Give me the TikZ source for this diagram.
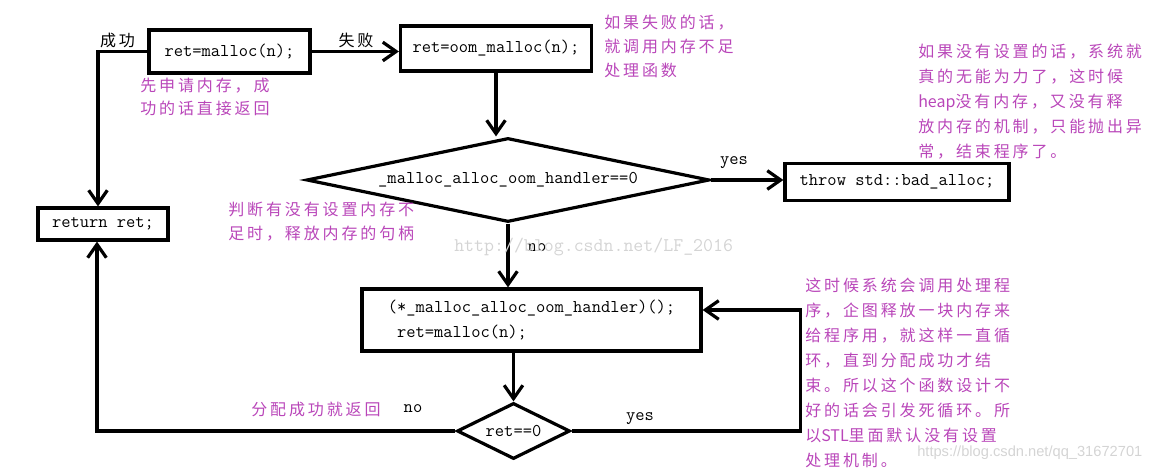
\documentclass[tikz,border=0pt]{standalone}
\usepackage{fontspec}
\usepackage{xcolor}
\usetikzlibrary{shapes.geometric,arrows.meta,positioning,calc}
\newfontfamily\cjk[LetterSpace=18]{Noto Sans CJK SC}
\newfontfamily\cjklatin{Noto Sans CJK SC}
\newfontfamily\wmfont{Liberation Sans}
\newcommand\lat[1]{{\cjklatin #1}}
\definecolor{notecolor}{RGB}{185,70,185}
\definecolor{wmcolor}{RGB}{212,212,212}

\tikzset{
  codebox/.style={draw, line width=2.4pt, inner sep=0pt, font=\ttfamily\fontsize{13.5}{18.75}\selectfont},
  decision/.style={diamond, draw, line width=2.4pt, inner sep=0pt, font=\ttfamily\fontsize{13.5}{15}\selectfont},
  flow/.style={line width=2.4pt, -{Straight Barb[length=10pt,width=14pt]}},
  note/.style={anchor=north west, inner sep=0pt, align=left, text=notecolor, font=\cjk\fontsize{12}{#1}\selectfont},
  note/.default=18.75pt,
  tag/.style={inner sep=0pt, font=\cjk\fontsize{12}{15}\selectfont},
  answer/.style={inner sep=0pt, font=\ttfamily\fontsize{13.5}{15}\selectfont},
  wmark/.style={inner sep=0pt, text=wmcolor}
}

\begin{document}
\begin{tikzpicture}[x=0.75pt, y=-0.75pt]
    \useasboundingbox (0,0) rectangle (1167,473);

    % boxes and decisions
    \node[codebox, minimum width=120.75pt, minimum height=32.25pt] (malloc) at (229.5,51.5) {ret=malloc(n);};
    \node[codebox, minimum width=143.25pt, minimum height=33.75pt] (oom) at (496,48.5) {ret=oom\_malloc(n);};
    \node[decision, aspect=4.8, minimum width=302.25pt, minimum height=63pt] (check) at (508,180) {\_malloc\_alloc\_oom\_handler==0};
    \node[codebox, minimum width=168pt, minimum height=27.75pt] (throw) at (897,182) {throw std::bad\_alloc;};
    \node[codebox, minimum width=97.5pt, minimum height=24pt] (ret) at (103,224) {return ret;};
    \node[codebox, align=left, minimum width=254.25pt, minimum height=46.5pt] (handler) at (531.5,320) {(*\_malloc\_alloc\_oom\_handler)();\\\ ret=malloc(n);};
    \node[decision, aspect=2, minimum width=84.75pt, minimum height=42pt] (retcheck) at (513.5,431) {ret==0};

    % connectors
    \draw[flow] (malloc.east) -- (malloc.east -| oom.west);
    \draw[flow] (malloc.west) -| ([xshift=-3.75pt]ret.north);
    \draw[flow] (oom.south) -- (oom.south |- check.north);
    \draw[flow] (check.east) -- (check.east -| throw.west);
    \draw[flow] (check.south) -- (check.south |- handler.north);
    \draw[flow] (handler.south -| retcheck.north) -- (retcheck.north);
    \draw[flow] (retcheck.west) -| ([xshift=-4.5pt]ret.south);
    \draw[flow] (retcheck.east) -- ++(229,0) |- ([yshift=7.5pt]handler.east);

    % branch labels
    \node[tag] (ok) at (117.5,40) {成功};
    \node[tag] (fail) at (356,40) {失败};
    \node[answer] (yes1) at (734,163) {yes};
    \node[answer] (no1) at (537,248) {no};
    \node[answer] (no2) at (413,409) {no};
    \node[answer] (yes2) at (640,419) {yes};

    % notes
    \node[note=17.25pt] (n1) at (140,77.5) {先申请内存，成\\功的话直接返回};
    \node[note=18pt] (n2) at (604,14.5) {如果失败的话，\\就调用内存不足\\处理函数};
    \node[note=18.75pt] (n3) at (918,43.5) {如果没有设置的话，系统就\\真的无能为力了，这时候\\\lat{heap}没有内存，又没有释\\放内存的机制，只能抛出异\\常，结束程序了。};
    \node[note=18pt] (n4) at (228,201.5) {判断有没有设置内存不\\足时，释放内存的句柄};
    \node[note, anchor=west] (n5) at (251,409) {分配成功就返回};
    \node[note=18.75pt] (n6) at (805,277.5) {这时候系统会调用处理程\\序，企图释放一块内存来\\给程序用，就这样一直循\\环，直到分配成功才结\\束。所以这个函数设计不\\好的话会引发死循环。所\\以\lat{STL}里面默认没有设置\\处理机制。};

    % watermarks
    \node[wmark, anchor=west, font=\ttfamily\fontsize{14.5}{15}\selectfont] (wm1) at (454,247) {http://blog.csdn.net/LF\_2016};
    \node[wmark, anchor=west, font=\wmfont\fontsize{11}{13}\selectfont] (wm2) at (917,453) {https://blog.csdn.net/qq\_31672701};
\end{tikzpicture}
\end{document}
